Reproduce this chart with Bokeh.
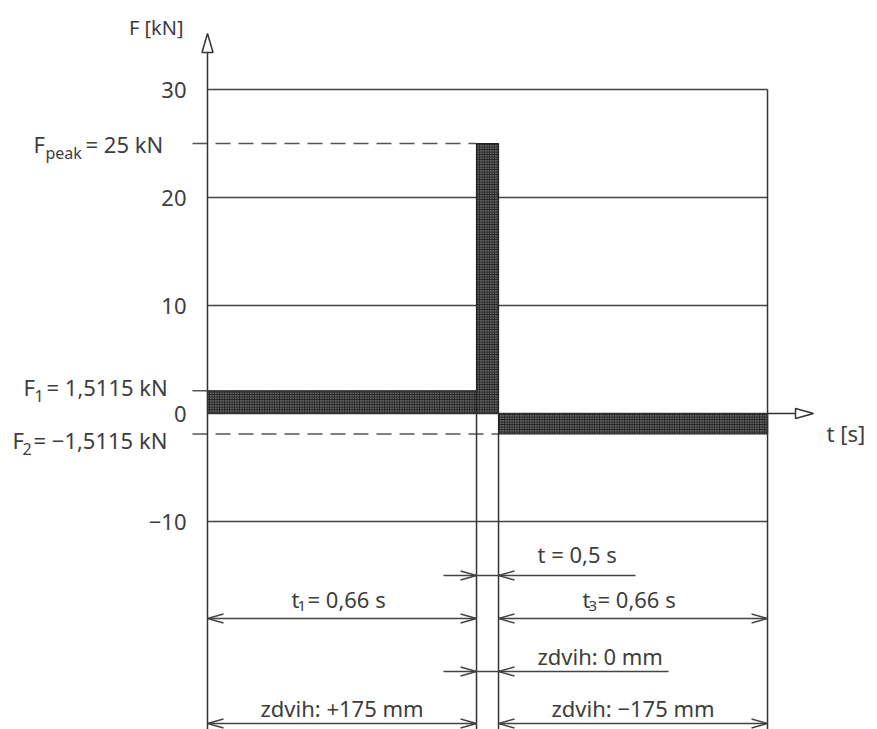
from bokeh.plotting import figure
from bokeh.models import Range1d
from bokeh.core.properties import value
from bokeh.embed import file_html
from bokeh.resources import INLINE

# ---------------- data ----------------
y_ticks = [30, 20, 10, 0, -10]
y_tick_labels = ["30", "20", "10", "0", "−10"]
grid_levels = [30, 20, 10, -10]

# loading phases on the drawing's time axis (the 0.5 s peak phase is widened only symbolically)
phase_start = [0.0, 0.66, 0.714]
phase_end = [0.66, 0.714, 1.374]
phase_force = [2.1, 25.0, -1.9]          # bar heights as drawn [kN]

force_label_levels = [25.0, 2.1, -1.9]
force_label_sub = ["peak", "1", "2"]
force_label_main = ["= 25 kN", "= 1,5115 kN", "= −1,5115 kN"]

dim_peak_time = "t = 0,5 s"
dim_phase_time_sub = ["1", "3"]
dim_phase_time_main = ["= 0,66 s", "= 0,66 s"]
dim_peak_stroke = "zdvih: 0 mm"
dim_phase_stroke = ["zdvih: +175 mm", "zdvih: −175 mm"]

axis_y_label = "F [kN]"
axis_x_label = "t [s]"

# ---------------- layout ----------------
W, H = 877, 729
PAGE = 0                      # page offset of the canvas
PX, PY = 407.6, 10.8          # px per drawing time unit, px per kN
OX, OY = 207, 413             # page px of the origin
FONT = value("Noto Sans")
TXT = "#3d3d3d"
LN = "#333333"
FS = "22px"


def X(px):
    return (px - OX) / PX


def Y(py):
    return (OY - py) / PY


p = figure(width=W, height=H, output_backend="svg", toolbar_location=None,
           x_range=Range1d(X(PAGE), X(PAGE + W)), y_range=Range1d(Y(PAGE + H), Y(PAGE)),
           x_axis_location=None, y_axis_location=None, min_border=0,
           outline_line_color=None, tools="")
p.grid.visible = False
p.background_fill_color = "white"
p.border_fill_color = "white"

t_end = phase_end[-1]
y_bottom = Y(740)

# grid lines
p.segment(x0=[0] * len(grid_levels), x1=[t_end] * len(grid_levels),
          y0=grid_levels, y1=grid_levels, line_color="#444444", line_width=1.5)

# dashed reference levels
dash_ends = [phase_end[0], 0, phase_start[2]]
p.segment(x0=[X(192)] * 3, x1=dash_ends, y0=force_label_levels, y1=force_label_levels,
          line_color="#555555", line_width=1.4, line_dash="15 8")

# force bars
p.quad(left=phase_start, right=phase_end,
       bottom=[min(0, f) for f in phase_force], top=[max(0, f) for f in phase_force],
       fill_color="#666666", hatch_pattern="cross", hatch_scale=2.5,
       hatch_color="#222222", hatch_weight=1, line_color="#222222", line_width=1.2)

# frame right edge and extension lines
p.segment(x0=[t_end, phase_end[0], phase_start[2]], x1=[t_end, phase_end[0], phase_start[2]],
          y0=[grid_levels[0], 0, phase_force[2]], y1=[y_bottom] * 3,
          line_color=LN, line_width=1.5)

# axes with hollow arrows
p.segment(x0=[0, 0], x1=[0, X(796)], y0=[y_bottom, 0], y1=[Y(51), 0],
          line_color=LN, line_width=1.5)
p.patch(x=[-5.5 / PX, 0, 5.5 / PX], y=[Y(52), Y(33), Y(52)],
        fill_color="white", line_color=LN, line_width=1.5)
p.patch(x=[X(795), X(813), X(795)], y=[5 / PY, 0, -5 / PY],
        fill_color="white", line_color=LN, line_width=1.5)


def vee(xt, yt, d):
    dx = d * 16 / PX
    dy = 4.5 / PY
    return [xt - dx, xt, xt - dx], [yt + dy, yt, yt - dy]


rowA, rowB, rowC, rowD = Y(575), Y(618), Y(671), Y(723)
# dimension lines
p.segment(x0=[X(443), 0, phase_start[2], X(443), 0, phase_start[2]],
          x1=[X(635), phase_end[0], t_end, X(668), phase_end[0], t_end],
          y0=[rowA, rowB, rowB, rowC, rowD, rowD],
          y1=[rowA, rowB, rowB, rowC, rowD, rowD],
          line_color="#444444", line_width=1.4)
heads = []
for row in (rowA, rowC):
    heads.append(vee(phase_end[0], row, 1))
    heads.append(vee(phase_start[2], row, -1))
for row in (rowB, rowD):
    heads.append(vee(0, row, -1))
    heads.append(vee(phase_end[0], row, 1))
    heads.append(vee(phase_start[2], row, -1))
    heads.append(vee(t_end, row, 1))
p.multi_line(xs=[h[0] for h in heads], ys=[h[1] for h in heads],
             line_color="#444444", line_width=1.4)

# ---------------- texts ----------------
common = dict(text_font=FONT, text_color=TXT, text_baseline="middle")

# y tick labels
p.text(x=[0] * len(y_ticks), y=y_ticks, text=y_tick_labels, x_offset=-21,
       text_align="right", text_font_size=FS, **common)
p.text(x=[0], y=[Y(27)], text=[axis_y_label], x_offset=-24, text_align="right",
       text_font_size="20px", **common)
p.text(x=[X(826)], y=[Y(432)], text=[axis_x_label], text_align="left",
       text_font_size=FS, **common)

# force labels (F + subscript + value)
F_left = [33, 23, 12]
sub_left = [45, 34, 22]
main_left = [85, 46, 33]
main_dy = [0, -4, 6]
p.text(x=[X(v) for v in F_left], y=[f + d / -PY for f, d in zip(force_label_levels, main_dy)],
       text=["F"] * 3, text_align="left", text_font_size=FS, **common)
p.text(x=[X(v) for v in sub_left],
       y=[f + (d + 9) / -PY for f, d in zip(force_label_levels, main_dy)],
       text=force_label_sub, text_align="left", text_font_size="16px", **common)
p.text(x=[X(v) for v in main_left], y=[f + d / -PY for f, d in zip(force_label_levels, main_dy)],
       text=force_label_main, text_align="left", text_font_size=FS, **common)

# dimension texts
p.text(x=[X(537), X(537)], y=[Y(553), Y(655)], text=[dim_peak_time, dim_peak_stroke],
       text_align="left", text_font_size=FS, **common)
p.text(x=[X(291), X(582)], y=[Y(598)] * 2, text=["t", "t"], text_align="left",
       text_font_size=FS, **common)
p.text(x=[X(297), X(588)], y=[Y(605)] * 2, text=dim_phase_time_sub, text_align="left",
       text_font_size="15px", **common)
p.text(x=[X(307), X(597)], y=[Y(598)] * 2, text=dim_phase_time_main, text_align="left",
       text_font_size=FS, **common)
p.text(x=[phase_end[0] / 2, (phase_start[2] + t_end) / 2], y=[Y(707)] * 2,
       text=dim_phase_stroke, text_align="center", text_font_size=FS, **common)

open("out.html", "w").write(file_html(p, INLINE))
